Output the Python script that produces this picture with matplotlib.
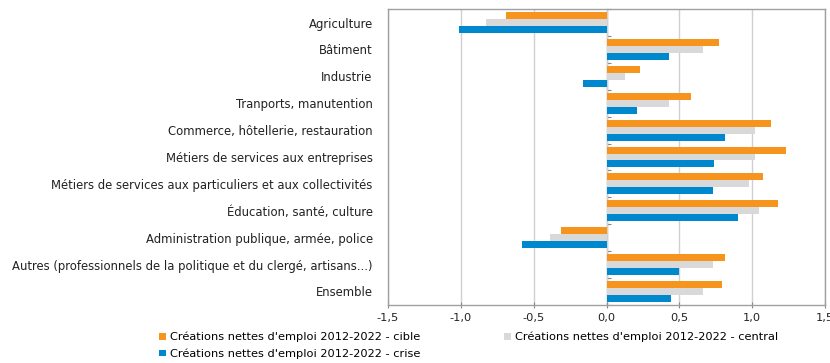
import numpy as np
import matplotlib
matplotlib.use("Agg")
import matplotlib.pyplot as plt
from matplotlib.ticker import FuncFormatter

plt.rcParams['font.family'] = ['DejaVu Sans']
plt.rcParams['font.size'] = 8.35

categories = [
    "Agriculture",
    "Bâtiment",
    "Industrie",
    "Tranports, manutention",
    "Commerce, hôtellerie, restauration",
    "Métiers de services aux entreprises",
    "Métiers de services aux particuliers et aux collectivités",
    "Éducation, santé, culture",
    "Administration publique, armée, police",
    "Autres (professionnels de la politique et du clergé, artisans...)",
    "Ensemble",
]

cible = [-0.69, 0.77, 0.23, 0.58, 1.13, 1.23, 1.075, 1.18, -0.31, 0.81, 0.79]
central = [-0.83, 0.66, 0.13, 0.43, 1.02, 1.02, 0.98, 1.05, -0.39, 0.73, 0.66]
crise = [-1.01, 0.43, -0.16, 0.21, 0.81, 0.74, 0.73, 0.90, -0.58, 0.50, 0.44]

labels = [
    "Créations nettes d'emploi 2012-2022 - cible",
    "Créations nettes d'emploi 2012-2022 - central",
    "Créations nettes d'emploi 2012-2022 - crise",
]
colors = ["#F7941D", "#D9D9D9", "#0088CE"]

fig = plt.figure(figsize=(8.3, 3.63), dpi=100)
ax = fig.add_axes([0.4675, 0.16, 0.5265, 0.815])

y = np.arange(len(categories))
h = 0.26
b1 = ax.barh(y - h, cible, height=h, color=colors[0], label=labels[0], zorder=3)
b2 = ax.barh(y, central, height=h, color=colors[1], label=labels[1], zorder=3)
b3 = ax.barh(y + h, crise, height=h, color=colors[2], label=labels[2], zorder=3)

ax.set_xlim(-1.5, 1.5)
ax.set_ylim(len(categories) - 0.5, -0.5)
ax.set_xticks(np.arange(-1.5, 1.51, 0.5))
ax.xaxis.set_major_formatter(FuncFormatter(lambda v, p: f"{v:.1f}".replace(".", ",")))
ax.grid(axis='x', color="#D0D0D0", linewidth=1, zorder=0)

ax.set_yticks(y)
ax.set_yticklabels(categories)
ax.tick_params(axis='y', length=0, pad=11, labelcolor="#222222")
ax.tick_params(axis='x', length=4, direction='inout', color="#888888",
               labelsize=8.2, labelcolor="#222222", pad=4)

for s in ax.spines.values():
    s.set_color("#A0A0A0")
    s.set_linewidth(1)

# category axis drawn at x = 0 with separator ticks
sec = ax.secondary_yaxis(0.5)
sec.set_yticks(np.arange(len(categories) + 1) - 0.5)
sec.set_yticklabels([])
sec.tick_params(length=3, color="#888888")
sec.spines['left'].set_color("#888888")

fig.legend(handles=[b1, b3, b2], labels=[labels[0], labels[2], labels[1]],
           loc='upper left', bbox_to_anchor=(0.192, 0.086), ncol=2,
           frameon=False, fontsize=8.2, handlelength=0.55, handleheight=0.55,
           handletextpad=0.35, columnspacing=7.4, labelspacing=0.55,
           borderaxespad=0, borderpad=0)

fig.savefig("out.png", dpi=100)
